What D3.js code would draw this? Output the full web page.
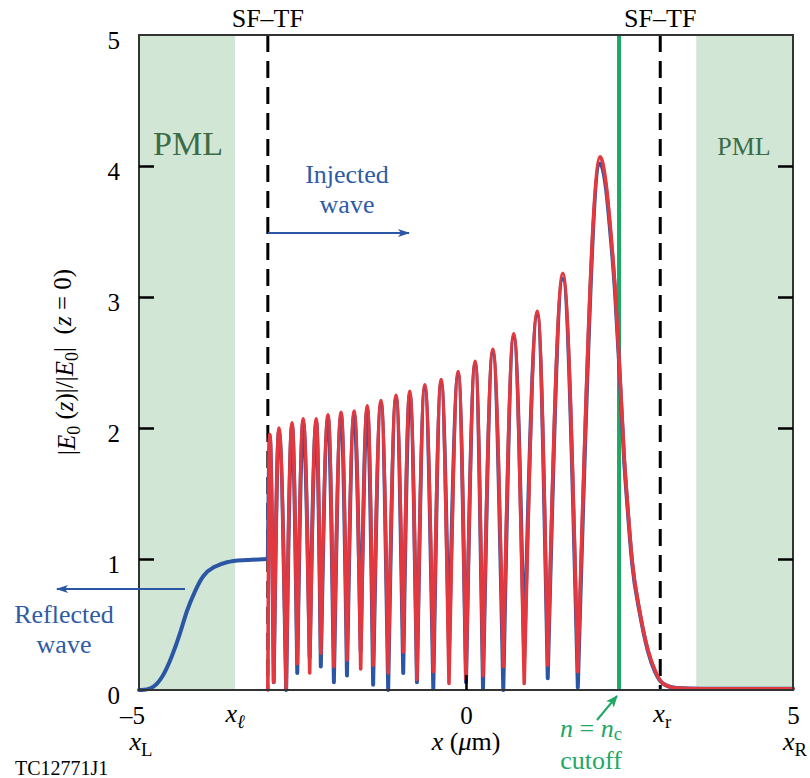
<!DOCTYPE html>
<html><head><meta charset="utf-8">
<script src="https://cdn.jsdelivr.net/npm/d3@7"></script>
<style>body{margin:0;background:#fff} text{font-family:"Liberation Serif","Times New Roman",serif}</style>
</head><body><svg id="c" width="810" height="778"></svg>
<script>
// ---- data ----
const xDomain = [-5, 5];
const yDomain = [0, 5];
const xTickValues = [-5, 0, 5];
const yTickValues = [0, 1, 2, 3, 4, 5];
const pmlLeft = [-5, -3.53];
const pmlRight = [3.52, 5];
const sftfX = [-3.03, 2.97];
const cutoffX = 2.34;

// reflected wave (blue) left of SF-TF boundary
const reflX = [-5.0, -4.80, -4.63, -4.50, -4.37, -4.27, -4.14, -4.02, -3.87, -3.65, -3.46, -3.03];
const reflY = [0.0, 0.0, 0.10, 0.25, 0.43, 0.61, 0.76, 0.88, 0.94, 0.98, 0.99, 1.0];

// standing-wave peaks
const peakX = [-3.00, -2.86, -2.66, -2.49, -2.29, -2.11, -1.91, -1.71, -1.51, -1.30, -1.07, -0.86, -0.63, -0.38, -0.12, 0.14, 0.41, 0.73, 1.09, 1.48, 2.05];
const peakRed = [1.95, 2.00, 2.04, 2.07, 2.07, 2.10, 2.12, 2.13, 2.17, 2.21, 2.25, 2.28, 2.33, 2.37, 2.43, 2.51, 2.60, 2.72, 2.89, 3.18, 4.07];
const peakBlue = [1.93, 1.97, 2.01, 2.04, 2.04, 2.07, 2.09, 2.10, 2.14, 2.18, 2.22, 2.25, 2.30, 2.34, 2.40, 2.48, 2.57, 2.69, 2.86, 3.14, 4.02];

// standing-wave minima
const minX = [-2.94, -2.75, -2.58, -2.39, -2.22, -2.02, -1.82, -1.61, -1.42, -1.19, -0.96, -0.75, -0.50, -0.26, 0.00, 0.26, 0.57, 0.89, 1.25, 1.71];
const minRed = [0.06, 0.01, 0.20, 0.13, 0.28, 0.18, 0.23, 0.16, 0.19, 0.13, 0.29, 0.08, 0.14, 0.05, 0.08, 0.11, 0.18, 0.05, 0.19, 0.14];
const minBlue = [0.06, 0.00, 0.13, 0.25, 0.18, 0.06, 0.11, 0.30, 0.04, 0.00, 0.13, 0.06, 0.01, 0.30, 0.06, 0.01, 0.00, 0.25, 0.09, 0.02];

// decay past the cutoff
const tailX = [2.14, 2.20, 2.28, 2.35, 2.42, 2.46, 2.54, 2.66, 2.78, 2.89, 3.01, 3.23, 3.58, 5.0];
const tailRed = [3.87, 3.57, 3.06, 2.44, 1.76, 1.48, 0.99, 0.59, 0.31, 0.15, 0.05, 0.015, 0.01, 0.01];
const tailBlue = [3.83, 3.53, 3.03, 2.41, 1.74, 1.46, 0.97, 0.58, 0.30, 0.14, 0.05, 0.015, 0.01, 0.01];
const startRed = 0.0, startBlue = 1.0;

// ---- drawing ----
const svg = d3.select("#c");
const x = d3.scaleLinear().domain(xDomain).range([139, 793]);
const y = d3.scaleLinear().domain(yDomain).range([690, 35]);
const BLUE = "#2b56a3", RED = "#e1393f", GREEN = "#1fa864", TXTBLUE = "#2e5ba6", PMLTXT = "#3b6c46";

// PML regions
[pmlLeft, pmlRight].forEach(r => {
  svg.append("rect").attr("x", x(r[0])).attr("y", y(5)).attr("width", x(r[1]) - x(r[0]))
    .attr("height", y(0) - y(5)).attr("fill", "#d2e6d6");
});

// SF-TF dashed lines
sftfX.forEach(v => {
  svg.append("line").attr("x1", x(v)).attr("x2", x(v)).attr("y1", y(5)).attr("y2", y(0))
    .attr("stroke", "#000").attr("stroke-width", 3).attr("stroke-dasharray", "17,9");
});
// cutoff line
svg.append("line").attr("x1", x(cutoffX)).attr("x2", x(cutoffX)).attr("y1", y(5)).attr("y2", y(0))
  .attr("stroke", GREEN).attr("stroke-width", 4);

const line = d3.line().x(d => x(d[0])).y(d => y(d[1])).curve(d3.curveMonotoneX);
const smooth = d3.line().x(d => x(d[0])).y(d => y(d[1])).curve(d3.curveBasis);
function archPath(startV, peakV, minV, tailV) {
  let d = "";
  for (let i = 0; i < peakX.length; i++) {
    const pts = [i === 0 ? [sftfX[0], startV] : [minX[i - 1], minV[i - 1]], [peakX[i], peakV[i]]];
    if (i < minX.length) pts.push([minX[i], minV[i]]);
    else tailX.forEach((t, j) => pts.push([t, tailV[j]]));
    d += line(pts);
  }
  return d;
}

// reflected wave
svg.append("path").attr("d", smooth(reflX.map((v, i) => [v, reflY[i]])))
  .attr("fill", "none").attr("stroke", BLUE).attr("stroke-width", 4).attr("stroke-linecap", "round");
// blue curve
svg.append("path").attr("d", archPath(startBlue, peakBlue, minBlue, tailBlue))
  .attr("fill", "none").attr("stroke", BLUE).attr("stroke-width", 4).attr("stroke-linecap", "round").attr("stroke-linejoin", "round");
// red curve
svg.append("path").attr("d", archPath(startRed, peakRed, minRed, tailRed))
  .attr("fill", "none").attr("stroke", RED).attr("stroke-width", 3.6).attr("stroke-linecap", "round").attr("stroke-linejoin", "round");

// frame
svg.append("rect").attr("x", x(-5)).attr("y", y(5)).attr("width", x(5) - x(-5)).attr("height", y(0) - y(5))
  .attr("fill", "none").attr("stroke", "#333").attr("stroke-width", 2);

// axes
const fmt = d => d < 0 ? "\u2013" + (-d) : String(d);
const yAxisL = svg.append("g").attr("transform", `translate(${x(-5)},0)`)
  .call(d3.axisLeft(y).tickValues(yTickValues).tickSize(-15).tickPadding(19).tickFormat(fmt));
const yAxisR = svg.append("g").attr("transform", `translate(${x(5)},0)`)
  .call(d3.axisRight(y).tickValues(yTickValues).tickSize(-15).tickFormat(""));
const xAxisB = svg.append("g").attr("transform", `translate(0,${y(0)})`)
  .call(d3.axisBottom(x).tickValues(xTickValues).tickSize(-15).tickPadding(16).tickFormat(fmt));
[yAxisL, yAxisR, xAxisB].forEach(g => {
  g.select(".domain").remove();
  g.selectAll(".tick line").attr("stroke", "#000").attr("stroke-width", 2.5);
  g.selectAll("text").attr("font-size", 25).attr("fill", "#000").style("font-family", '"Liberation Serif",serif');
});
yAxisL.selectAll("text").attr("dy", "0.53em");
xAxisB.selectAll("text").filter(d => d < 0).attr("dx", "-0.28em");
xAxisB.selectAll(".tick line").filter(d => d === -5 || d === 5).remove();
yAxisL.selectAll(".tick line").filter(d => d === 0 || d === 5).remove();
yAxisR.selectAll(".tick line").filter(d => d === 0 || d === 5).remove();

// text helpers
function txt(px, py, parts, opts = {}) {
  const t = svg.append("text").attr("x", px).attr("y", py).attr("font-size", opts.size || 26)
    .attr("fill", opts.fill || "#000").attr("text-anchor", opts.anchor || "middle");
  if (opts.transform) t.attr("transform", opts.transform).attr("x", 0).attr("y", 0);
  parts.forEach(p => {
    if (typeof p === "string") t.append("tspan").text(p);
    else {
      const s = t.append("tspan").text(p.t);
      if (p.i) s.attr("font-style", "italic");
      if (p.sub) s.attr("font-size", (opts.size || 26) * 0.72).attr("dy", p.sub);
      if (p.dy) s.attr("dy", p.dy);
    }
  });
  return t;
}

// SF-TF labels
txt(x(sftfX[0]), 27, ["SF\u2013TF"], {size: 26});
txt(x(sftfX[1]), 27, ["SF\u2013TF"], {size: 26});
// PML labels
txt(188, 155, ["PML"], {size: 34, fill: PMLTXT});
txt(744, 155, ["PML"], {size: 26, fill: PMLTXT});

// Injected wave
txt(347, 183, ["Injected"], {size: 26, fill: TXTBLUE});
txt(347, 213, ["wave"], {size: 26, fill: TXTBLUE});
svg.append("defs").html(
  `<marker id="ab" viewBox="0 0 12 8" refX="11" refY="4" markerWidth="12" markerHeight="8" markerUnits="userSpaceOnUse" orient="auto"><path d="M0,0 L12,4 L0,8 L3,4 Z" fill="${BLUE}"/></marker>
   <marker id="ag" viewBox="0 0 12 10" refX="11" refY="5" markerWidth="12" markerHeight="10" markerUnits="userSpaceOnUse" orient="auto"><path d="M0,0 L12,5 L0,10 L3,5 Z" fill="${GREEN}"/></marker>`);
svg.append("line").attr("x1", x(sftfX[0])).attr("x2", 409).attr("y1", 233).attr("y2", 233)
  .attr("stroke", BLUE).attr("stroke-width", 2).attr("marker-end", "url(#ab)");
// Reflected wave
txt(64, 623, ["Reflected"], {size: 26, fill: TXTBLUE});
txt(64, 653, ["wave"], {size: 26, fill: TXTBLUE});
svg.append("line").attr("x1", 185).attr("x2", 57).attr("y1", 589).attr("y2", 589)
  .attr("stroke", BLUE).attr("stroke-width", 2).attr("marker-end", "url(#ab)");

// x-axis labels
txt(x(-5) + 2, 750, [{t: "x", i: 1}, {t: "L", sub: "0.3em"}], {size: 26});
txt(x(pmlLeft[1]), 722, [{t: "x", i: 1}, {t: "\u2113", i: 1, sub: "0.3em"}], {size: 26});
txt(x(sftfX[1]) + 2, 722, [{t: "x", i: 1}, {t: "r", sub: "0.3em"}], {size: 26});
txt(x(5) + 2, 750, [{t: "x", i: 1}, {t: "R", sub: "0.3em"}], {size: 26});
txt(x(0), 750, [{t: "x", i: 1}, " (", {t: "\u03bc", i: 1}, "m)"], {size: 26});

// cutoff annotation
txt(591, 737, [{t: "n", i: 1}, " = ", {t: "n", i: 1}, {t: "c", sub: "0.18em"}], {size: 26, fill: GREEN});
txt(591, 769, ["cutoff"], {size: 26, fill: GREEN});
svg.append("line").attr("x1", 597).attr("y1", 720).attr("x2", 617).attr("y2", 696)
  .attr("stroke", GREEN).attr("stroke-width", 2).attr("marker-end", "url(#ag)");

// y-axis label
txt(0, 0, ["|", {t: "E", i: 1}, {t: "0", sub: "0.3em"}, {t: " (", dy: "-0.3em"}, {t: "z", i: 1}, ")|/|", {t: "E", i: 1}, {t: "0", sub: "0.3em"}, {t: "|  (", dy: "-0.3em"}, {t: "z", i: 1}, " = 0)"],
  {size: 25, transform: "translate(75,362) rotate(-90)"}).attr("xml:space", "preserve");

// figure id
txt(15, 775, ["TC12771J1"], {size: 20, anchor: "start"});
</script></body></html>
